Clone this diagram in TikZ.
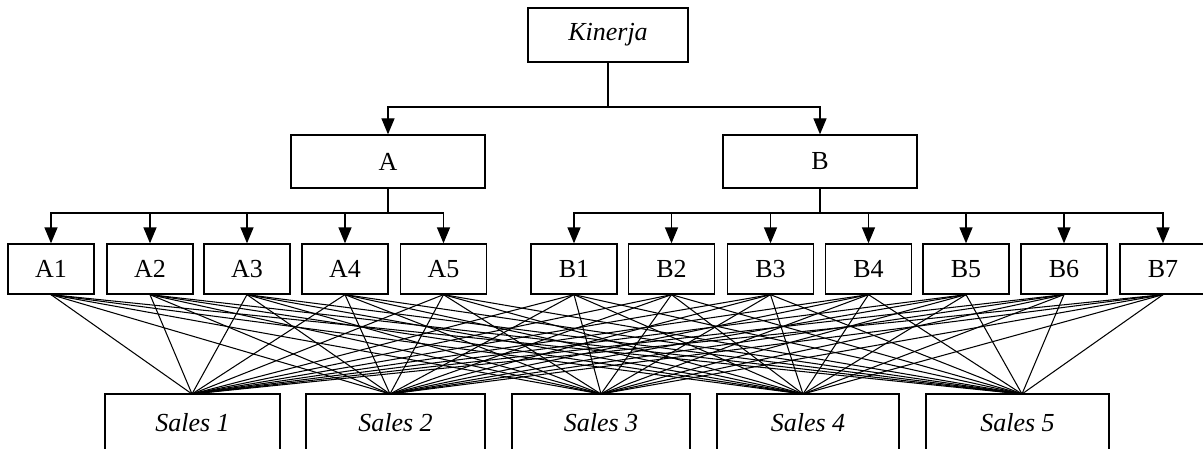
\documentclass[tikz,border=0pt]{standalone}
\usepackage{fontspec}
\setmainfont{Liberation Serif}
\usetikzlibrary{arrows.meta}
\begin{document}
\begin{tikzpicture}[x=1pt,y=1pt,
  box/.style={draw, line width=1.3pt, inner sep=0pt, font=\fontsize{26}{30}\selectfont},
  rowbox/.style={box, minimum width=86pt, minimum height=50pt},
  salesbox/.style={box, minimum height=58pt},
  arr/.style={line width=1.3pt, -{Triangle[width=13pt,length=16pt]}},
  link/.style={line width=1.05pt}]
\useasboundingbox (0,0) rectangle (1203,448);
\clip (0,0) rectangle (1203,448);
% top levels
\node[box, minimum width=160pt, minimum height=54pt] (K) at (608,413) {\textit{Kinerja}};
\node[box, minimum width=194pt, minimum height=53pt] (A) at (388,286.5) {A};
\node[box, minimum width=194pt, minimum height=53pt] (B) at (820,286.5) {B};
% criteria row
\node[rowbox] (A1) at (51,179) {A1};
\node[rowbox] (A2) at (150,179) {A2};
\node[rowbox] (A3) at (247,179) {A3};
\node[rowbox] (A4) at (345,179) {A4};
\node[rowbox] (A5) at (443.5,179) {A5};
\node[rowbox] (B1) at (574,179) {B1};
\node[rowbox] (B2) at (671.5,179) {B2};
\node[rowbox] (B3) at (770.5,179) {B3};
\node[rowbox] (B4) at (868.5,179) {B4};
\node[rowbox] (B5) at (966,179) {B5};
\node[rowbox] (B6) at (1064,179) {B6};
\node[rowbox] (B7) at (1163,179) {B7};
% alternatives
\node[salesbox, minimum width=175pt] (S1) at (192.5,25) {\textit{Sales 1}};
\node[salesbox, minimum width=179pt] (S2) at (395.5,25) {\textit{Sales 2}};
\node[salesbox, minimum width=178pt] (S3) at (601,25) {\textit{Sales 3}};
\node[salesbox, minimum width=182pt] (S4) at (808,25) {\textit{Sales 4}};
\node[salesbox, minimum width=183pt] (S5) at (1017.5,25) {\textit{Sales 5}};
\coordinate (s1) at (192,54);
\coordinate (s2) at (390,54);
\coordinate (s3) at (601,54);
\coordinate (s4) at (803,54);
\coordinate (s5) at (1022,54);
% hierarchy arrows
\coordinate (kj) at (608,341);
\draw[line width=1.3pt] (K.south) -- (kj);
\draw[arr] (kj) -| (A.north);
\draw[arr] (kj) -| (B.north);
\coordinate (aj) at (388,235);
\draw[line width=1.3pt] (A.south) -- (aj);
\foreach \n in {A1,A2,A3,A4,A5} \draw[arr] (aj) -| (\n.north);
\coordinate (bj) at (820,235);
\draw[line width=1.3pt] (B.south) -- (bj);
\foreach \n in {B1,B2,B3,B4,B5,B6,B7} \draw[arr] (bj) -| (\n.north);
% full links criteria -> alternatives
\foreach \n in {A1,A2,A3,A4,A5,B1,B2,B3,B4,B5,B6,B7}
  \foreach \s in {s1,s2,s3,s4,s5}
    \draw[link] (\n.south) -- (\s);
\end{tikzpicture}
\end{document}
